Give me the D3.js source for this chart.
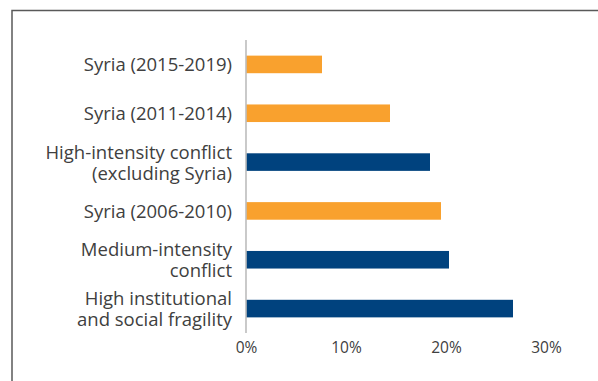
<!DOCTYPE html>
<html>
<head>
<meta charset="utf-8">
<script src="https://cdn.jsdelivr.net/npm/d3@7"></script>
<style>
  html, body { margin: 0; padding: 0; background: #fff; }
  svg { display: block; }
  text { font-family: "Open Sans", sans-serif; fill: #404040; }
</style>
</head>
<body>
<svg id="chart" width="598" height="381"></svg>
<script>
// Share of each group, top to bottom
const categories = [
  ["Syria (2015-2019)"],
  ["Syria (2011-2014)"],
  ["High-intensity conflict", "(excluding Syria)"],
  ["Syria (2006-2010)"],
  ["Medium-intensity", "conflict"],
  ["High institutional", "and social fragility"]
];
const values = [7.6, 14.4, 18.4, 19.5, 20.3, 26.7];
const isSyria = [true, true, false, true, false, false];
const xTicks = [0, 10, 20, 30];

const svg = d3.select("#chart");

// outer frame
svg.append("rect")
  .attr("x", 12).attr("y", 10.5)
  .attr("width", 620).attr("height", 400)
  .attr("fill", "none").attr("stroke", "#595959").attr("stroke-width", 1.5);

const plotLeft = 246, plotRight = 546, plotTop = 40, plotBottom = 333;

const x = d3.scaleLinear().domain([0, 30]).range([plotLeft, plotRight]);
const y = d3.scaleBand().domain(d3.range(categories.length)).range([plotTop, plotBottom]).paddingInner(0.64).paddingOuter(0.32);

// bars
svg.append("g").selectAll("rect")
  .data(values)
  .join("rect")
  .attr("x", x(0) + 0.5)
  .attr("y", (d, i) => y(i))
  .attr("width", d => x(d) - x(0) - 0.5)
  .attr("height", y.bandwidth())
  .attr("fill", (d, i) => isSyria[i] ? "#F9A12E" : "#00427E");

// category axis line
svg.append("line")
  .attr("x1", plotLeft).attr("x2", plotLeft)
  .attr("y1", plotTop).attr("y2", plotBottom)
  .attr("stroke", "#a6a6a6").attr("stroke-width", 1.2);

// category labels (one text per category, wrapped lines as tspans)
const lineH = 21;
const labels = svg.append("g").selectAll("text")
  .data(categories)
  .join("text")
  .attr("text-anchor", "end")
  .attr("font-size", 18.5)
  .attr("dominant-baseline", "central");
labels.each(function(lines, i) {
  const cy = y(i) + y.bandwidth() / 2;
  const off = -(lines.length - 1) * lineH / 2;
  d3.select(this).selectAll("tspan")
    .data(lines)
    .join("tspan")
    .attr("x", 232)
    .attr("y", (d, j) => cy + off + j * lineH - 1)
    .text(d => d);
});

// value axis tick labels
const xAxis = d3.axisBottom(x).tickValues(xTicks).tickFormat(d => d + "%").tickSize(0).tickPadding(0);
const gx = svg.append("g").attr("transform", `translate(0, 342)`).call(xAxis);
gx.select(".domain").remove();
gx.selectAll("text")
  .attr("font-size", 15.5)
  .attr("font-family", "Open Sans, sans-serif")
  .attr("fill", "#404040");
</script>
</body>
</html>
